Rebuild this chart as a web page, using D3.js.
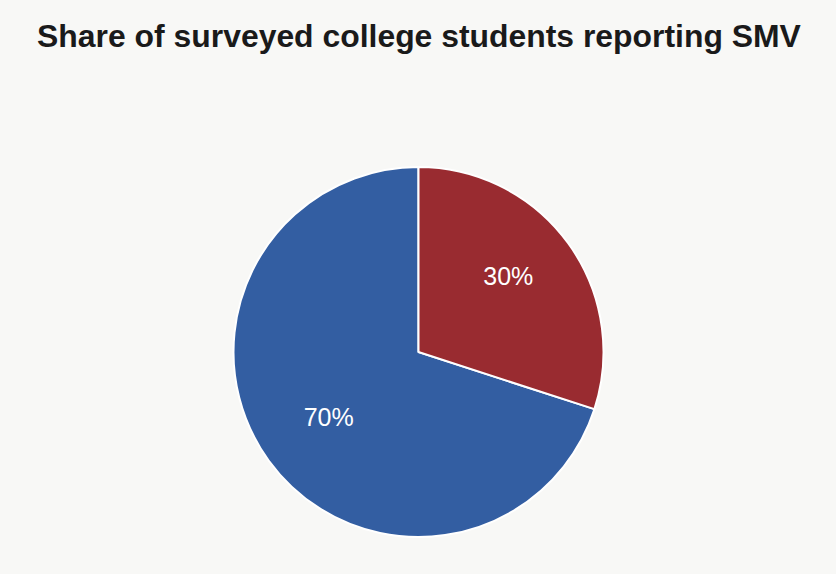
<!DOCTYPE html>
<html><head><meta charset="utf-8">
<script src="https://cdn.jsdelivr.net/npm/d3@7"></script>
<style>
html,body{margin:0;padding:0;background:#f8f8f6;}
svg{display:block;}
</style></head>
<body>
<svg id="chart" width="836" height="574"></svg>
<script>
const title = "Share of surveyed college students reporting SMV";
const categories = ["No SMV reported", "Reported SMV"];
const values = [70, 30];
const colors = ["#335ea2", "#992b30"];
const labels = ["70%", "30%"];

const W = 836, H = 574;
const svg = d3.select("#chart");
svg.append("rect").attr("width", W).attr("height", H).attr("fill", "#f8f8f6");

svg.append("text")
  .attr("x", 419).attr("y", 47)
  .attr("text-anchor", "middle")
  .attr("font-family", "Liberation Sans, Arial, sans-serif")
  .attr("font-weight", "bold")
  .attr("font-size", 31.9)
  .attr("fill", "#1a1a1a")
  .text(title);

const cx = 418.5, cy = 352, R = 185;
const g = svg.append("g").attr("transform", `translate(${cx},${cy})`);

// blue drawn counterclockwise from top: use negative angles
const pie = d3.pie().sort(null).value(d => d).startAngle(0).endAngle(-2 * Math.PI);
const arcs = pie(values);
const arc = d3.arc().innerRadius(0).outerRadius(R);
const labelArc = d3.arc().innerRadius(R * 0.6).outerRadius(R * 0.6);

g.selectAll("path").data(arcs).join("path")
  .attr("d", arc)
  .attr("fill", (d, i) => colors[i])
  .attr("stroke", "#ffffff")
  .attr("stroke-width", 2)
  .attr("stroke-linejoin", "round");

g.selectAll("text.lbl").data(arcs).join("text")
  .attr("class", "lbl")
  .attr("transform", (d, i) => {
    const c = labelArc.centroid(d);
    const adj = i === 1 ? -11 : 0;
    return `translate(${c[0]},${c[1] + adj})`;
  })
  .attr("text-anchor", "middle")
  .attr("dy", "0.35em")
  .attr("font-family", "Liberation Sans, Arial, sans-serif")
  .attr("font-size", 25)
  .attr("fill", "#ffffff")
  .text((d, i) => labels[i]);
</script>
</body></html>
